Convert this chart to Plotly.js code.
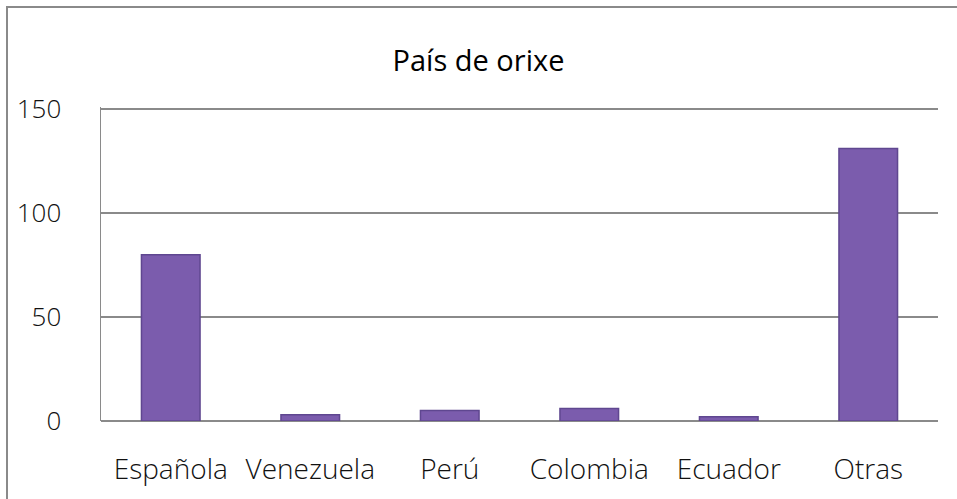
<!DOCTYPE html>
<html><head><meta charset="utf-8">
<script src="https://cdn.plot.ly/plotly-3.0.1.min.js"></script>
<style>
html,body{margin:0;padding:0;background:#fff;overflow:hidden;}
#wrap{position:relative;width:957px;height:499px;}
#chart{position:absolute;left:0;top:0;width:957px;height:499px;}
#frame{position:absolute;left:6px;top:6px;width:970px;height:520px;border:2px solid #8a8a8a;pointer-events:none;box-sizing:border-box;}
</style></head>
<body>
<div id="wrap"><div id="chart"></div><div id="frame"></div></div>
<script>
const categories = ["Española", "Venezuela", "Perú", "Colombia", "Ecuador", "Otras"];
const values = [80, 3, 5, 6, 2, 131];
const yTicks = [0, 50, 100, 150];
const chartTitle = "País de orixe";

const font = "'Open Sans', 'Segoe UI', sans-serif";
Plotly.newPlot('chart', [{
  type: 'bar',
  x: categories,
  y: values,
  marker: {color: '#7b5cad', line: {color: '#5f4790', width: 1.5}},
  hoverinfo: 'none'
}], {
  width: 957, height: 499,
  margin: {l: 101, r: 19, t: 107, b: 78, pad: 0},
  paper_bgcolor: 'rgba(0,0,0,0)',
  plot_bgcolor: 'rgba(0,0,0,0)',
  bargap: 0.58,
  showlegend: false,
  title: {text: chartTitle, x: 0.5, xanchor: 'center', y: 1 - 61/499, yanchor: 'middle',
          font: {family: font, size: 29, color: '#000'}},
  xaxis: {
    type: 'category', showgrid: false, zeroline: false, showline: false,
    ticks: '', ticklabelstandoff: 29,
    tickfont: {family: font, size: 28, color: '#111', weight: 300}
  },
  yaxis: {
    range: [0, 151], tickvals: yTicks, ticktext: yTicks.map(String),
    showgrid: true, gridcolor: '#8a8a8a', gridwidth: 1.5,
    zeroline: true, zerolinecolor: '#8a8a8a', zerolinewidth: 1.5,
    showline: true, linecolor: '#8a8a8a', linewidth: 1.5,
    ticks: '', ticklabelstandoff: 33,
    tickfont: {family: font, size: 26, color: '#111', weight: 300}
  }
}, {staticPlot: true});
</script>
</body></html>
